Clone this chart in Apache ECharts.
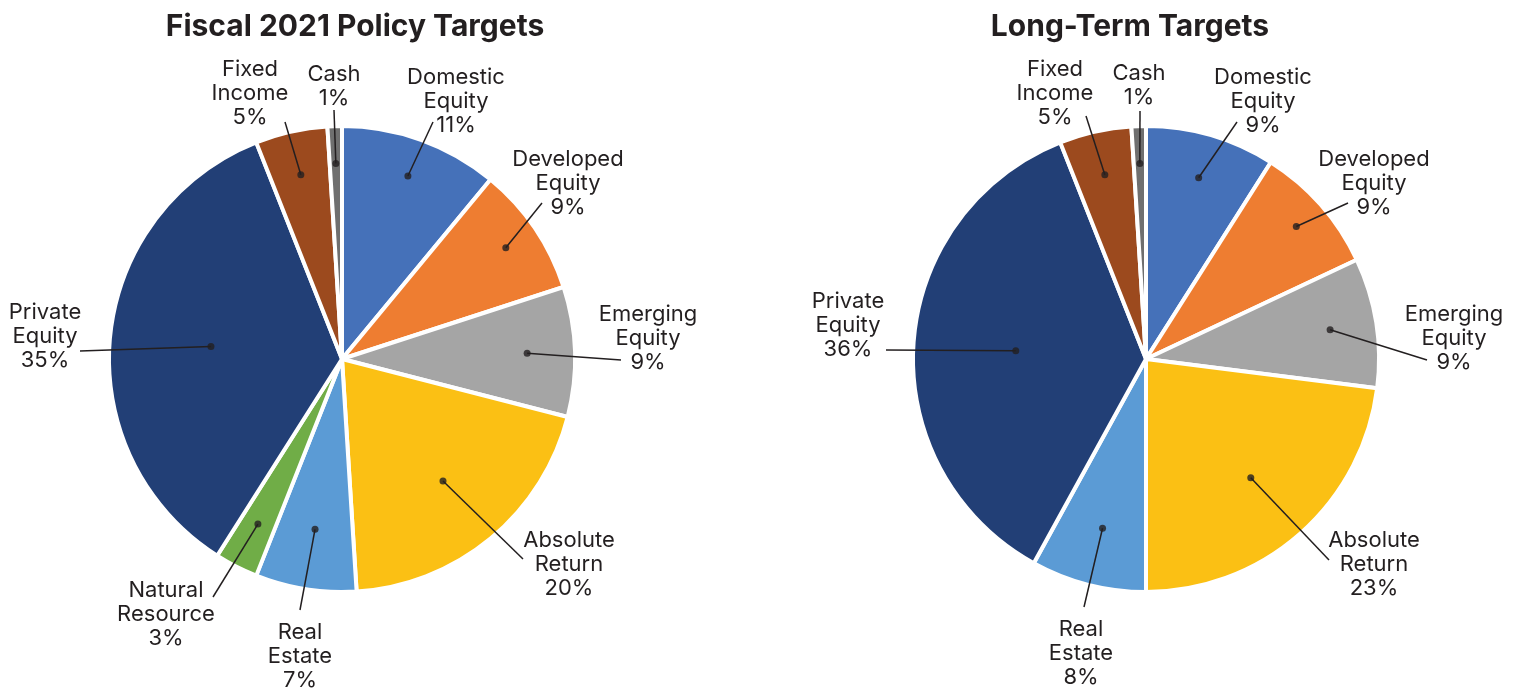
<!DOCTYPE html>
<html>
<head>
<meta charset="utf-8">
<script src="https://cdn.jsdelivr.net/npm/echarts@6/dist/echarts.min.js"></script>
<style>
  html, body { margin: 0; padding: 0; background: #fff; }
  #chart { width: 1521px; height: 688px; }
</style>
</head>
<body>
<div id="chart"></div>
<script>
// data
const leftNames = ['Domestic Equity', 'Developed Equity', 'Emerging Equity', 'Absolute Return', 'Real Estate', 'Natural Resource', 'Private Equity', 'Fixed Income', 'Cash'];
const leftValues = [11, 9, 9, 20, 7, 3, 35, 5, 1];
const rightNames = ['Domestic Equity', 'Developed Equity', 'Emerging Equity', 'Absolute Return', 'Real Estate', 'Private Equity', 'Fixed Income', 'Cash'];
const rightValues = [9, 9, 9, 23, 8, 36, 5, 1];
const titles = ['Fiscal 2021 Policy Targets', 'Long-Term Targets'];

// styles
const colors = {
  'Domestic Equity': '#4571B9',
  'Developed Equity': '#EE7D31',
  'Emerging Equity': '#A5A5A5',
  'Absolute Return': '#FBC014',
  'Real Estate': '#5B9BD5',
  'Natural Resource': '#70AD47',
  'Private Equity': '#223F76',
  'Fixed Income': '#9C4A1E',
  'Cash': '#6F6F6F'
};
const ink = '#231F20';
const font = 'Inter';
const R = 233;

// layout: label centre, leader end, dot radius (fraction of R)
const layouts = [
  {
    center: [342, 359],
    titleX: 355,
    labels: {
      'Domestic Equity': { pos: [456, 101], end: [433, 122], r: 0.835 },
      'Developed Equity': { pos: [568, 183], end: [542, 203], r: 0.85 },
      'Emerging Equity': { pos: [648, 338], end: [621, 360], r: 0.795 },
      'Absolute Return': { pos: [569, 564], end: [523, 559], r: 0.68 },
      'Real Estate': { pos: [300, 656], end: [300, 610], r: 0.74 },
      'Natural Resource': { pos: [166, 614], end: [213, 597], r: 0.795 },
      'Private Equity': { pos: [45, 336], end: [80, 351], r: 0.565 },
      'Fixed Income': { pos: [250, 93], end: [285, 122], r: 0.81 },
      'Cash': { pos: [334, 86], end: [334, 110], r: 0.84 }
    }
  },
  {
    center: [1146, 359],
    titleX: 1130,
    labels: {
      'Domestic Equity': { pos: [1263, 101], end: [1237, 122], r: 0.81 },
      'Developed Equity': { pos: [1374, 183], end: [1348, 203], r: 0.86 },
      'Emerging Equity': { pos: [1454, 338], end: [1427, 360], r: 0.80 },
      'Absolute Return': { pos: [1374, 564], end: [1329, 560], r: 0.68 },
      'Real Estate': { pos: [1081, 653], end: [1084, 607], r: 0.75 },
      'Private Equity': { pos: [848, 325], end: [886, 350], r: 0.56 },
      'Fixed Income': { pos: [1055, 93], end: [1086, 116], r: 0.81 },
      'Cash': { pos: [1139, 85], end: [1140, 111], r: 0.84 }
    }
  }
];

const charts = [
  { names: leftNames, values: leftValues },
  { names: rightNames, values: rightValues }
];

const series = [];
const polar = [];
const angleAxis = [];
const radiusAxis = [];

charts.forEach((c, ci) => {
  const lay = layouts[ci];

  // visible pie, kept underneath the leader lines
  series.push({
    type: 'pie',
    z: 1,
    center: lay.center,
    radius: R,
    silent: true,
    animation: false,
    startAngle: 90,
    label: { show: false },
    labelLine: { show: false },
    itemStyle: { borderColor: '#fff', borderWidth: 4 },
    data: c.names.map((n, i) => ({ name: n, value: c.values[i], itemStyle: { color: colors[n] } }))
  });

  // one transparent anchor pie per slice so each leader line starts at its own depth
  c.names.forEach((name, idx) => {
    const l = lay.labels[name];
    series.push({
      type: 'pie',
      z: 5,
      center: lay.center,
      radius: R * l.r,
      silent: true,
      animation: false,
      startAngle: 90,
      avoidLabelOverlap: false,
      itemStyle: { color: 'rgba(0,0,0,0)' },
      label: { show: false },
      labelLine: { show: false },
      data: c.names.map((n, i) => i === idx
        ? {
            name: n, value: c.values[i],
            label: {
              show: true,
              position: 'outside',
              formatter: p => p.name.replace(' ', '\n') + '\n' + p.value + '%',
              color: ink, fontFamily: font, fontSize: 22, lineHeight: 24
            },
            labelLine: { show: true, length: 5, length2: 5, lineStyle: { color: ink, width: 1.5 } }
          }
        : { name: n, value: c.values[i] }),
      labelLayout: params => {
        const out = { x: l.pos[0], y: l.pos[1], align: 'center', verticalAlign: 'middle' };
        if (params.labelLinePoints && params.labelLinePoints.length) {
          out.labelLinePoints = [params.labelLinePoints[0], l.end];
        }
        return out;
      }
    });
  });

  // dots at the start of each leader line
  polar.push({ center: lay.center, radius: R });
  angleAxis.push({
    polarIndex: ci, type: 'value', min: 0, max: 100, startAngle: 90, clockwise: true,
    show: false, axisLine: { show: false }, axisTick: { show: false }, axisLabel: { show: false }, splitLine: { show: false }
  });
  radiusAxis.push({
    polarIndex: ci, type: 'value', min: 0, max: 1,
    show: false, axisLine: { show: false }, axisTick: { show: false }, axisLabel: { show: false }, splitLine: { show: false }
  });
  let acc = 0;
  const dots = c.values.map((v, i) => {
    const mid = acc + v / 2;
    acc += v;
    return [lay.labels[c.names[i]].r, mid];
  });
  series.push({
    type: 'scatter',
    coordinateSystem: 'polar',
    polarIndex: ci,
    silent: true,
    animation: false,
    symbolSize: 7,
    itemStyle: { color: ink },
    z: 10,
    data: dots
  });
});

const chart = echarts.init(document.getElementById('chart'), null, { renderer: 'canvas' });
chart.setOption({
  backgroundColor: '#fff',
  animation: false,
  polar: polar,
  angleAxis: angleAxis,
  radiusAxis: radiusAxis,
  graphic: titles.map((t, i) => ({
    type: 'text',
    x: layouts[i].titleX,
    y: 27,
    style: {
      text: t, fill: ink, fontFamily: font, fontSize: 30, fontWeight: 'bold',
      align: 'center', verticalAlign: 'middle'
    }
  })),
  series: series
});
</script>
</body>
</html>
